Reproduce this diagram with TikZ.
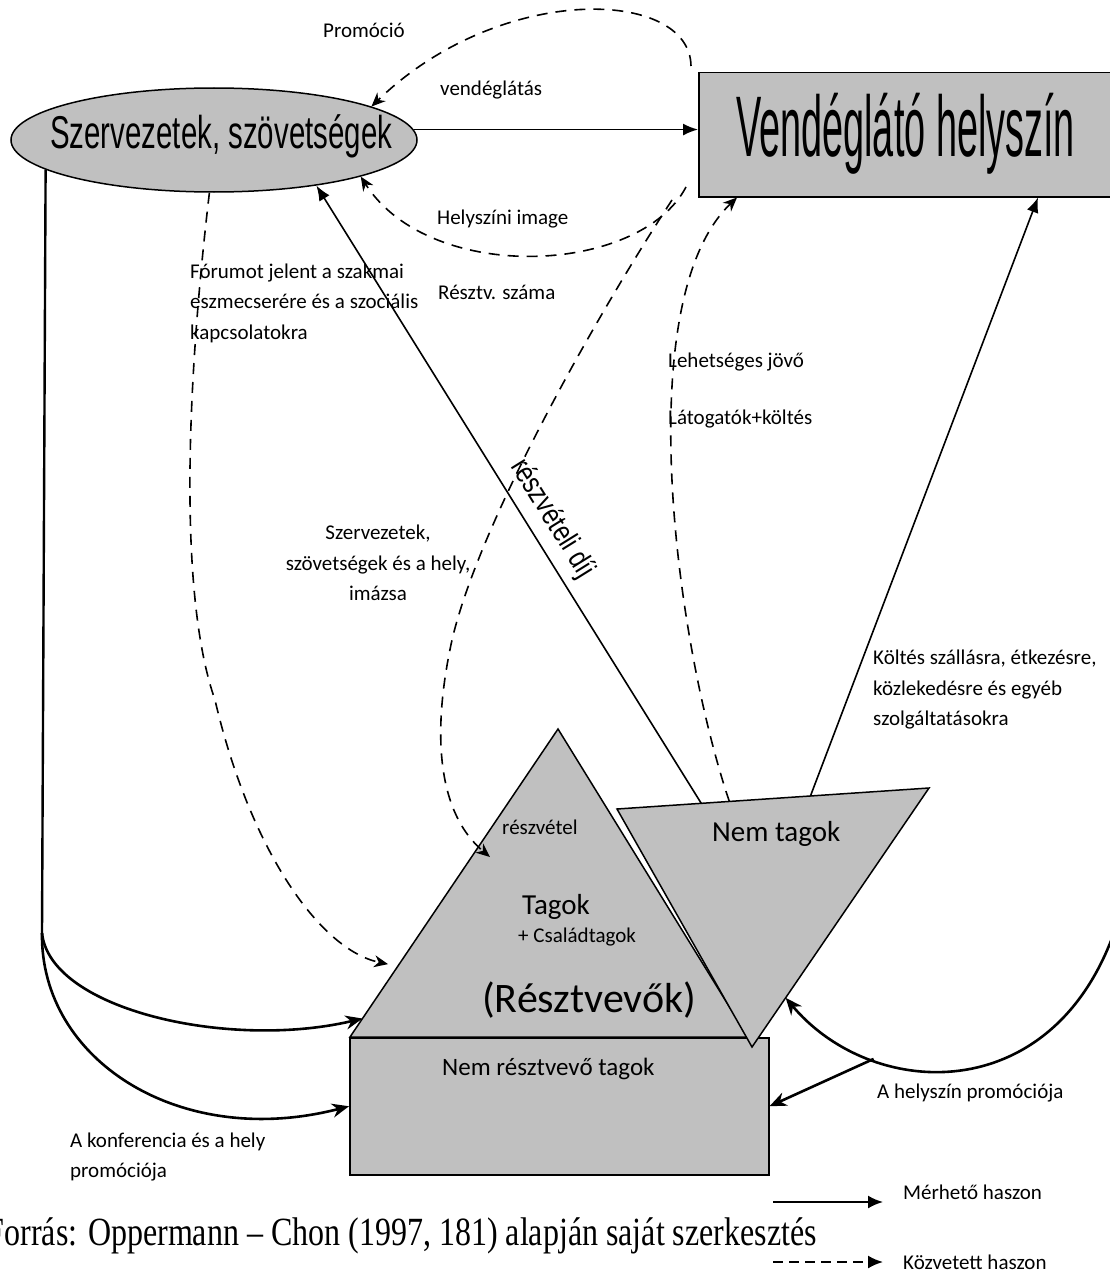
\documentclass[tikz,border=0pt]{standalone}
\usepackage{fontspec}
\setmainfont{Carlito}
\newfontfamily\narrowfont{Liberation Sans}
\newfontfamily\sourcefont{Liberation Serif}
\usepackage{graphicx}
\usetikzlibrary{shapes,arrows.meta,calc,positioning}
\definecolor{boxgray}{HTML}{C0C0C0}
\tikzstyle{lbl}=[inner sep=0pt, font=\fontsize{21}{30.5}\selectfont, align=left]
\newcommand{\squeezed}[3]{{\narrowfont\fontsize{#1}{#1}\selectfont\scalebox{#2}[1]{#3}}}

\begin{document}
\begin{tikzpicture}
      [x=1pt, y=-1pt,
      org/.style={ellipse, draw, line width=1.5pt, fill=boxgray,
        minimum width=406pt, minimum height=104pt, inner sep=0pt},
      venue/.style={rectangle, draw, line width=1.5pt, fill=boxgray,
        minimum width=430pt, minimum height=124pt, inner sep=0pt},
      partbox/.style={draw, line width=1.5pt, fill=boxgray},
      measured/.style={-{Latex[length=15pt,width=12pt]}, line width=1.6pt},
      indirect/.style={-{Stealth[length=14pt,width=12pt]}, line width=1.6pt,
        dash pattern=on 11pt off 8pt},
      promo/.style={-{Stealth[length=17pt,width=14pt]}, line width=2.6pt}]
      \useasboundingbox (0,0) rectangle (1110,1279);
      % Place nodes
      \node [org] (org) at (214,140) {};
      \node [anchor=base west, inner sep=0pt] (orgname) at (50,149) {\squeezed{46}{0.64}{Szervezetek, szövetségek}};
      \node [venue, anchor=north west] (venue) at (698,72) {};
      \node [anchor=base west, inner sep=0pt] (venuename) at (736,157) {\squeezed{86}{0.44}{Vendéglátó helyszín}};
      \node [partbox, rectangle, minimum width=419pt, minimum height=137pt,
        anchor=north west, inner sep=0pt] (nonpart) at (349,1037) {};
      \coordinate (tA) at (558,729);
      \coordinate (tL) at (350,1037);
      \coordinate (tR) at (748,1037);
      \path [partbox] (tL) -- (tA) -- (tR) -- cycle;
      \coordinate (nL) at (617,809);
      \coordinate (nR) at (929,788);
      \coordinate (nB) at (752,1047);
      \path [partbox] (nL) -- (nR) -- (nB) -- cycle;
      \node [lbl, anchor=base west] (reszvetel) at (502,834) {részvétel};
      \node [lbl, anchor=base west, font=\fontsize{29}{29}\selectfont] (tagok) at (522,914) {Tagok};
      \node [lbl, anchor=base west] (csalad) at (518,942) {+ Családtagok};
      \node [lbl, anchor=base west, font=\fontsize{42}{42}\selectfont] (resztvevok) at (482,1012) {(Résztvevők)};
      \node [lbl, anchor=base west, font=\fontsize{29}{29}\selectfont] (nemtag) at (712,841) {Nem tagok};
      \node [lbl, anchor=base west, font=\fontsize{25}{25}\selectfont] (nemresz) at (442,1075) {Nem résztvevő tagok};
      % edge labels
      \node [lbl, anchor=base west] (promolbl) at (323,38) {Promóció};
      \node [lbl, anchor=base west] (vendlbl) at (440,96) {vendéglátás};
      \node [lbl, anchor=base west] (imagelbl) at (437,224) {Helyszíni image};
      \node [lbl, anchor=west] (forumlbl) at (190,303) {Fórumot jelent a szakmai\\eszmecserére és a szociális\\kapcsolatokra};
      \node [lbl, anchor=base west] (szamalbl) at (438,299) {Résztv. száma};
      \node [lbl, align=center] (imazslbl) at (378,563) {Szervezetek,\\szövetségek és a hely,\\imázsa};
      \node [lbl, anchor=base west] (jovolbl) at (668,367) {Lehetséges jövő};
      \node [lbl, anchor=base west] (latlbl) at (668,424) {Látogatók+költés};
      \node [lbl, anchor=west] (koltlbl) at (873,690) {Költés szállásra, étkezésre,\\közlekedésre és egyéb\\szolgáltatásokra};
      \node [lbl, anchor=base west] (hpromolbl) at (877,1098) {A helyszín promóciója};
      \node [lbl, anchor=west] (kpromolbl) at (70,1157) {A konferencia és a hely\\promóciója};
      % legend and source
      \node [lbl, anchor=base west] (merheto) at (903,1199) {Mérhető haszon};
      \node [lbl, anchor=base west] (kozvetett) at (903,1269) {Közvetett haszon};
      \node [anchor=base east, inner sep=0pt] (forras) at (817,1245)
        {\sourcefont\fontsize{40}{40}\selectfont\scalebox{0.8}[1]{Forrás: Oppermann – Chon (1997, 181) alapján saját szerkesztés}};
      % Draw edges
      \draw [measured] (org.3) -- (org.3 -| venue.west);
      \coordinate (promostart) at (691,66);
      \draw [indirect] (promostart) .. controls (690,-12) and (500,-18) .. (org.12);
      \coordinate (imagestart) at (686,187);
      \draw [indirect] (imagestart) .. controls (640,275) and (430,285) .. (org.-14);
      \draw [measured] ($(nL)!0.27!(nR)$) -- node (fee) [sloped, above, inner sep=9pt, pos=0.44]
        {\squeezed{30}{0.8}{részvételi díj}} (org.-24);
      \coordinate (forumend) at ($(tL)!0.23!(tA)$);
      \draw [indirect, shorten >=10pt] (org.-95) .. controls (185,400) and (180,600) .. (215,700)
        .. controls (250,850) and (320,950) .. (forumend);
      \coordinate (szamastart) at (672,200);
      \coordinate (tagokin) at (490,857);
      \draw [indirect] (szamastart) .. controls (600,310) and (480,520) .. (452,640)
        .. controls (430,740) and (440,815) .. (tagokin);
      \draw [indirect] ($(nL)!0.36!(nR)$) .. controls (675,640) and (630,300) .. ($(venue.south west)+(39,0)$);
      \draw [measured] ($(nL)!0.62!(nR)$) -- ($(venue.south west)+(340,0)$);
      % promotion loops
      \coordinate (split) at (42,933);
      \draw [line width=2.4pt] (org.-170) -- (split);
      \draw [promo] (split) .. controls (50,1010) and (230,1050) .. ($(tL)!0.06!(tA)$);
      \draw [promo] (split) .. controls (40,1060) and (180,1150) .. (nonpart.west);
      \coordinate (loopstart) at (1130,870);
      \draw [promo] (loopstart) .. controls (1090,1110) and (880,1110) .. ($(nR)!0.81!(nB)$)
        coordinate [pos=0.75] (loopfork);
      \draw [promo] (loopfork) -- (nonpart.east);
      % legend arrows
      \coordinate (solidfrom) at (773,1202);
      \coordinate (solidto) at (883,1202);
      \coordinate (dashfrom) at (773,1262);
      \coordinate (dashto) at (883,1262);
      \draw [-{Latex[length=15pt,width=13pt]}, line width=2pt] (solidfrom) -- (solidto);
      \draw [-{Latex[length=15pt,width=13pt]}, line width=2pt, dash pattern=on 10pt off 6pt] (dashfrom) -- (dashto);
\end{tikzpicture}
\end{document}
